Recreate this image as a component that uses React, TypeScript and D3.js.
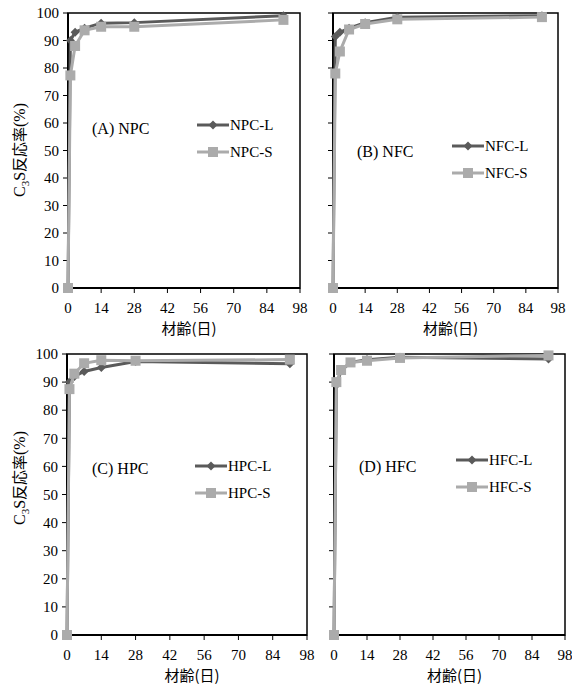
import React from "react";
import * as d3 from "d3";

const days = [0, 1, 3, 7, 14, 28, 91];
const xTicks = [0, 14, 28, 42, 56, 70, 84, 98];
const yTicks = [0, 10, 20, 30, 40, 50, 60, 70, 80, 90, 100];

const npcL = [0, 90, 93, 94.5, 96.3, 96.5, 99];
const npcS = [0, 77.3, 88, 93.7, 95, 95, 97.5];
const nfcL = [0, 91.5, 93, 94.5, 96.5, 98.5, 99];
const nfcS = [0, 78, 86, 94, 96, 97.7, 98.5];
const hpcL = [0, 90, 92, 93.8, 95.2, 97.3, 96.5];
const hpcS = [0, 87.5, 93, 96.7, 97.8, 97.6, 98];
const hfcL = [0, 89, 94, 97, 98, 98.8, 98.2];
const hfcS = [0, 90, 94.3, 97, 97.6, 98.6, 99.5];

const panelNames = ["(A) NPC", "(B) NFC", "(C) HPC", "(D) HFC"];
const seriesNames = [
  ["NPC-L", "NPC-S"],
  ["NFC-L", "NFC-S"],
  ["HPC-L", "HPC-S"],
  ["HFC-L", "HFC-S"],
];
const xTitle = "材齢(日)";

const SERIF = "'Liberation Serif', 'Times New Roman', serif";
const CJK = "'Noto Sans CJK JP', 'Noto Sans CJK SC', sans-serif";
const DARK = "#5a5a5a";
const LIGHT = "#ababab";

type Panel = {
  x0: number; x1: number; y0: number; y1: number;
  L: number[]; S: number[]; name: string; names: string[];
  yLabels: boolean; labelPos: [number, number]; legendPos: [number, number];
};

const panels: Panel[] = [
  { x0: 68, x1: 300, y0: 13, y1: 288, L: npcL, S: npcS, name: panelNames[0], names: seriesNames[0], yLabels: true, labelPos: [92, 128], legendPos: [197, 125] },
  { x0: 333, x1: 558, y0: 13, y1: 288, L: nfcL, S: nfcS, name: panelNames[1], names: seriesNames[1], yLabels: false, labelPos: [357, 151], legendPos: [452, 146] },
  { x0: 67, x1: 307, y0: 354, y1: 635, L: hpcL, S: hpcS, name: panelNames[2], names: seriesNames[2], yLabels: true, labelPos: [92, 468], legendPos: [195, 466] },
  { x0: 334, x1: 565, y0: 354, y1: 635, L: hfcL, S: hfcS, name: panelNames[3], names: seriesNames[3], yLabels: false, labelPos: [359, 466], legendPos: [456, 460] },
];

function Diamond({ x, y }: { x: number; y: number }) {
  const r = 4.5;
  return <path d={`M${x},${y - r}L${x + r},${y}L${x},${y + r}L${x - r},${y}Z`} fill={DARK} />;
}
function Square({ x, y }: { x: number; y: number }) {
  const s = 10;
  return <rect x={x - s / 2} y={y - s / 2} width={s} height={s} fill={LIGHT} />;
}

function PanelView({ p }: { p: Panel }) {
  const x = d3.scaleLinear().domain([0, 98]).range([p.x0, p.x1]);
  const y = d3.scaleLinear().domain([0, 100]).range([p.y1, p.y0]);
  const line = d3.line<number>().x((_, i) => x(days[i])).y((d) => y(d));
  const cx = (p.x0 + p.x1) / 2;
  const [lx, ly] = p.legendPos;
  return (
    <g>
      <rect x={p.x0} y={p.y0} width={p.x1 - p.x0} height={p.y1 - p.y0} fill="white" stroke="black" strokeWidth={1.5} />
      {yTicks.map((t) => (
        <g key={"y" + t}>
          <line x1={p.x0 - 5} x2={p.x0} y1={y(t)} y2={y(t)} stroke="black" strokeWidth={1} />
          {p.yLabels && (
            <text x={p.x0 - 9} y={y(t)} dy="0.35em" textAnchor="end" fontFamily={SERIF} fontSize={15}>{t}</text>
          )}
        </g>
      ))}
      {xTicks.map((t) => (
        <g key={"x" + t}>
          <line x1={x(t)} x2={x(t)} y1={p.y1} y2={p.y1 + 5} stroke="black" strokeWidth={1} />
          <text x={x(t)} y={p.y1 + 20} dy="0.35em" textAnchor="middle" fontFamily={SERIF} fontSize={15}>{t}</text>
        </g>
      ))}
      <line x1={p.x0} x2={p.x1} y1={p.y1} y2={p.y1} stroke="black" strokeWidth={2.2} />
      <line x1={p.x0} x2={p.x0} y1={p.y0} y2={p.y1} stroke="black" strokeWidth={2} />
      <text x={cx + 5} y={p.y1 + 41} dy="0.35em" textAnchor="middle" fontFamily={CJK} fontSize={15}>{xTitle}</text>
      <path d={line(p.L) || ""} fill="none" stroke={DARK} strokeWidth={3} />
      {p.L.map((v, i) => <Diamond key={"l" + i} x={x(days[i])} y={y(v)} />)}
      <path d={line(p.S) || ""} fill="none" stroke={LIGHT} strokeWidth={3} />
      {p.S.map((v, i) => <Square key={"s" + i} x={x(days[i])} y={y(v)} />)}
      <text x={p.labelPos[0]} y={p.labelPos[1]} dy="0.35em" fontFamily={SERIF} fontSize={16}>{p.name}</text>
      <line x1={lx} x2={lx + 32} y1={ly} y2={ly} stroke={DARK} strokeWidth={3} />
      <Diamond x={lx + 16} y={ly} />
      <text x={lx + 33} y={ly} dy="0.35em" fontFamily={SERIF} fontSize={15}>{p.names[0]}</text>
      <line x1={lx} x2={lx + 32} y1={ly + 27} y2={ly + 27} stroke={LIGHT} strokeWidth={3} />
      <Square x={lx + 16} y={ly + 27} />
      <text x={lx + 33} y={ly + 27} dy="0.35em" fontFamily={SERIF} fontSize={15}>{p.names[1]}</text>
    </g>
  );
}

function YTitle({ cx, cy }: { cx: number; cy: number }) {
  return (
    <text transform={`translate(${cx},${cy}) rotate(-90)`} textAnchor="middle" dy="0.35em" fontSize={16}>
      <tspan fontFamily={SERIF}>C</tspan>
      <tspan fontFamily={SERIF} fontSize={11} dy="4">3</tspan>
      <tspan fontFamily={SERIF} dy="-4">S</tspan>
      <tspan fontFamily={CJK} fontSize={15}>反応率</tspan>
      <tspan fontFamily={SERIF}>(%)</tspan>
    </text>
  );
}

export default function App() {
  return (
    <svg width={572} height={693} style={{ position: "absolute", left: 0, top: 0, background: "white" }}>
      <rect width={572} height={693} fill="white" />
      {panels.map((p, i) => <PanelView key={i} p={p} />)}
      <YTitle cx={19} cy={150} />
      <YTitle cx={19} cy={478} />
    </svg>
  );
}
